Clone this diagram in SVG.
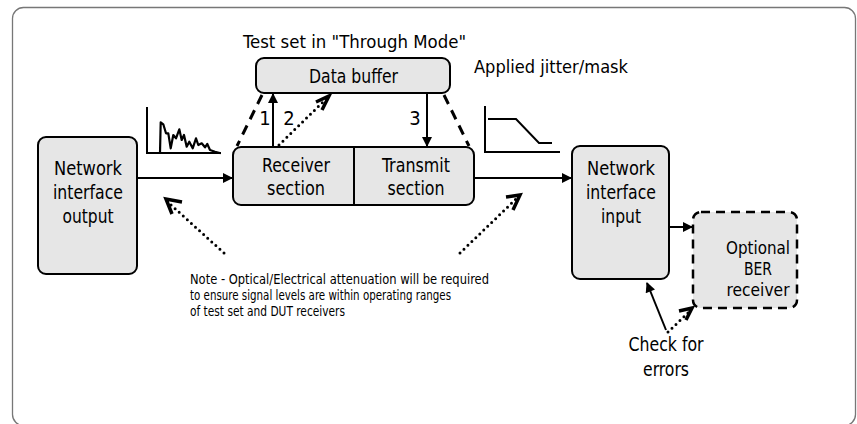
<svg xmlns="http://www.w3.org/2000/svg" width="857" height="424" viewBox="0 0 857 424">
  <style>
    text { font-family: "Liberation Sans Narrow", "DejaVu Sans Condensed", "Liberation Sans", sans-serif; fill: #000; }
    .lbl { font-size: 20px; text-anchor: middle; }
    .sm { font-size: 18px; }
    .cap { font-size: 18px; }
    .note { font-size: 14px; }
    .box { fill: #e6e6e6; stroke: #000; stroke-width: 2; }
    .dbox { fill: #e6e6e6; stroke: #000; stroke-width: 2.5; stroke-dasharray: 9 6; }
    .line { fill: none; stroke: #000; stroke-width: 2; }
    .dash { fill: none; stroke: #000; stroke-width: 3; stroke-dasharray: 10 7; }
    .dots { fill: none; stroke: #000; stroke-width: 3; stroke-linecap: round; stroke-dasharray: 0 5.5; }
    .chev { fill: none; stroke: #000; stroke-width: 3.5; stroke-linejoin: miter; }
  </style>
  <defs>
    <marker id="head" viewBox="0 0 10 10" refX="9" refY="5" markerWidth="6" markerHeight="5" markerUnits="strokeWidth" orient="auto">
      <path d="M0,0 L10,5 L0,10 Z" fill="#000"/>
    </marker>
  </defs>

  <!-- outer frame -->
  <rect x="12.5" y="7.5" width="843" height="418" rx="11" fill="#fff" stroke="#777" stroke-width="1.3"/>

  <!-- captions -->
  <text class="cap" x="243" y="48" textLength="223" lengthAdjust="spacingAndGlyphs">Test set in "Through Mode"</text>
  <text class="cap" x="474" y="73" textLength="154" lengthAdjust="spacingAndGlyphs">Applied jitter/mask</text>

  <!-- jitter spectrum sketch -->
  <g id="jitter-plot">
    <polyline class="line" points="147,107 147,153 221,153"/>
    <polyline fill="none" stroke="#000" stroke-width="2.2" stroke-linejoin="round" points="160,153 160.7,122.3 163.3,124.3 166,133.3 168.3,133.3 170.7,148.3 173.3,135 176,138.3 179.3,129.3 181.7,140 184,135 186.7,146.7 189.3,141.7 192.7,148.3 196,138.3 198.3,145 201.7,143.3 205,147.3 207.3,144 210,150 215,151.7 220.7,153.3"/>
  </g>

  <!-- tolerance mask sketch -->
  <g id="mask-plot">
    <polyline class="line" points="485,106 485,152 560,152"/>
    <polyline class="line" points="488,119 516,119 539,143 552,143"/>
  </g>

  <!-- nodes -->
  <g id="nif-output">
    <rect class="box" x="38" y="137" width="99" height="137" rx="8"/>
    <text class="lbl" x="88" y="175" textLength="68" lengthAdjust="spacingAndGlyphs">Network</text>
    <text class="lbl" x="88" y="199" textLength="70" lengthAdjust="spacingAndGlyphs">interface</text>
    <text class="lbl" x="88" y="223" textLength="51" lengthAdjust="spacingAndGlyphs">output</text>
  </g>

  <g id="data-buffer">
    <rect class="box" x="256" y="58" width="194" height="35" rx="8"/>
    <text class="lbl" x="353.5" y="83" textLength="89" lengthAdjust="spacingAndGlyphs">Data buffer</text>
  </g>

  <g id="test-set">
    <rect class="box" x="233" y="147" width="241" height="58" rx="8"/>
    <line class="line" x1="354" y1="147" x2="354" y2="205"/>
    <text class="lbl" x="296" y="172" textLength="68" lengthAdjust="spacingAndGlyphs">Receiver</text>
    <text class="lbl" x="296" y="195" textLength="58" lengthAdjust="spacingAndGlyphs">section</text>
    <text class="lbl" x="416" y="172" textLength="68" lengthAdjust="spacingAndGlyphs">Transmit</text>
    <text class="lbl" x="416" y="195" textLength="57" lengthAdjust="spacingAndGlyphs">section</text>
  </g>

  <g id="nif-input">
    <rect class="box" x="572" y="146" width="97" height="133" rx="8"/>
    <text class="lbl" x="621" y="175" textLength="68" lengthAdjust="spacingAndGlyphs">Network</text>
    <text class="lbl" x="621" y="199" textLength="70" lengthAdjust="spacingAndGlyphs">interface</text>
    <text class="lbl" x="621" y="223" textLength="40" lengthAdjust="spacingAndGlyphs">input</text>
  </g>

  <g id="ber-receiver">
    <rect class="dbox" x="693" y="212" width="104" height="96" rx="8"/>
    <text class="lbl sm" x="758" y="254" textLength="64" lengthAdjust="spacingAndGlyphs">Optional</text>
    <text class="lbl sm" x="758" y="275" textLength="28" lengthAdjust="spacingAndGlyphs">BER</text>
    <text class="lbl sm" x="758" y="296" textLength="63" lengthAdjust="spacingAndGlyphs">receiver</text>
  </g>

  <!-- connectors -->
  <g id="connectors">
    <line class="line" x1="137" y1="178" x2="232" y2="178" marker-end="url(#head)"/>
    <line class="line" x1="474" y1="178" x2="571" y2="178" marker-end="url(#head)"/>
    <line class="line" x1="669" y1="227" x2="692" y2="227" marker-end="url(#head)"/>

    <!-- buffer hand-off -->
    <line class="line" x1="273" y1="147" x2="273" y2="94" marker-end="url(#head)"/>
    <line class="line" x1="427" y1="93" x2="427" y2="146" marker-end="url(#head)"/>
    <line class="dots" x1="279" y1="145" x2="326" y2="99"/>
    <polyline class="chev" points="316,102 329,96 322,110"/>
    <text class="lbl" x="265" y="125">1</text>
    <text class="lbl" x="289" y="125">2</text>
    <text class="lbl" x="415" y="125">3</text>

    <!-- through-mode outline -->
    <line class="dash" x1="262" y1="95" x2="237" y2="146"/>
    <line class="dash" x1="444" y1="95" x2="469" y2="146"/>

    <!-- attenuation pointers -->
    <line class="dots" x1="224" y1="253" x2="170" y2="204"/>
    <polyline class="chev" points="182,202 166,199 172,214"/>
    <line class="dots" x1="460" y1="253" x2="516" y2="199"/>
    <polyline class="chev" points="506,197 520,195 513,210"/>

    <!-- error check -->
    <line class="line" x1="666" y1="330" x2="647" y2="283" marker-end="url(#head)"/>
    <line class="dots" x1="668" y1="332" x2="689" y2="312"/>
    <polyline class="chev" points="679,311 692,308 686,320"/>
  </g>

  <!-- notes -->
  <text class="note" x="190" y="284" textLength="299" lengthAdjust="spacingAndGlyphs">Note - Optical/Electrical attenuation will be required</text>
  <text class="note" x="190" y="300" textLength="261" lengthAdjust="spacingAndGlyphs">to ensure signal levels are within operating ranges</text>
  <text class="note" x="190" y="316" textLength="155" lengthAdjust="spacingAndGlyphs">of test set and DUT receivers</text>
  <text class="lbl" x="666" y="351" textLength="75" lengthAdjust="spacingAndGlyphs">Check for</text>
  <text class="lbl" x="666" y="376" textLength="46" lengthAdjust="spacingAndGlyphs">errors</text>
</svg>
